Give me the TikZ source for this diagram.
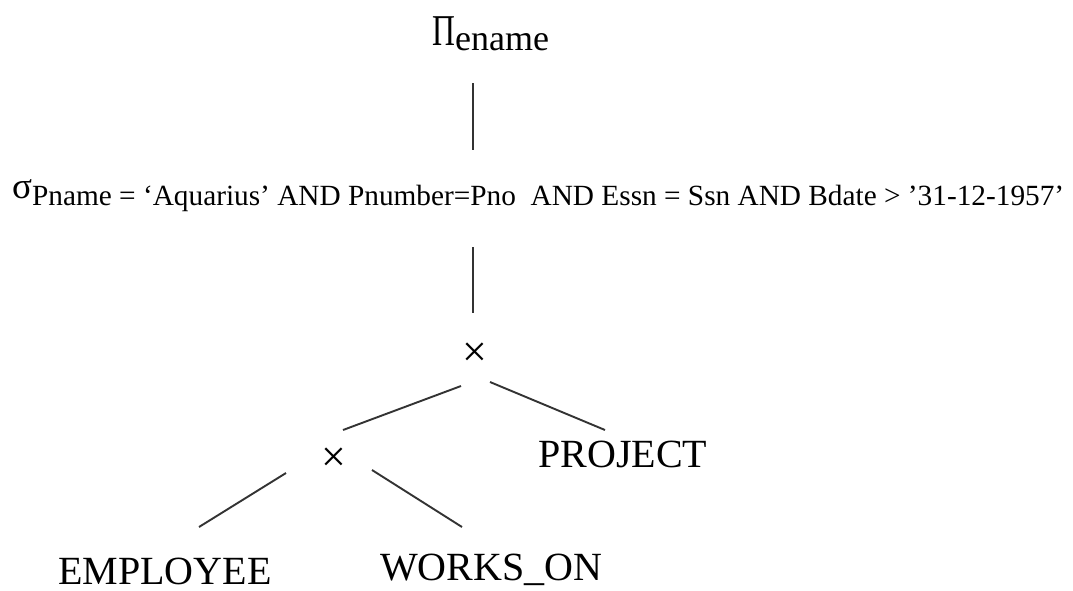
\documentclass[tikz,border=0pt]{standalone}
\usepackage{fontspec}
\setmainfont{Liberation Serif}
\usetikzlibrary{calc}

\begin{document}
\begin{tikzpicture}[
    x=1pt, y=-1pt,
    lbl/.style={inner sep=0pt, anchor=base west, font=\fontsize{40}{46}\selectfont},
    op/.style={inner sep=0pt, font=\fontsize{44}{50}\selectfont},
    edge/.style={line width=1.9pt, black!80},
]
\useasboundingbox (0,0) rectangle (1073,590);

% Projection
\node[inner sep=0pt, anchor=base west] (proj) at (432,45)
    {\fontsize{44}{50}\selectfont\scalebox{0.72}[1]{Π}\raisebox{-5pt}{\fontsize{36}{40}\selectfont ename}};

% Selection
\node[inner sep=0pt, anchor=base west] (sel) at (12,198)
    {\fontsize{37}{40}\selectfont σ\raisebox{-7pt}{\fontsize{29.3}{34}\selectfont Pname = ‘Aquarius’ AND Pnumber=Pno\ \ AND Essn = Ssn AND Bdate > ’31-12-1957’}};
\draw[edge] ($(proj.base west)+(41,38)$) -- ($(sel.base west)+(461,-48)$);

% Cartesian products
\node[op] (x1) at (475,355) {×};
\node[op] (x2) at (334,460) {×};
\draw[edge] ($(sel.base west)+(461,49)$) -- ($(x1)+(-2,-42)$);

% Relations
\node[lbl] (employee) at (58,584) {EMPLOYEE};
\node[lbl] (workson) at (380,580) {WORKS\_ON};
\node[lbl] (project) at (538,467) {PROJECT};

\draw[edge] ($(x1)+(-14,31)$) -- ($(x2)+(9,-30)$);
\draw[edge] ($(x1)+(15,27)$) -- ($(project.base west)+(67,-37)$);
\draw[edge] ($(x2)+(-48,13)$) -- ($(employee.base west)+(141,-57)$);
\draw[edge] ($(x2)+(38,10)$) -- ($(workson.base west)+(82,-53)$);

\end{tikzpicture}
\end{document}
